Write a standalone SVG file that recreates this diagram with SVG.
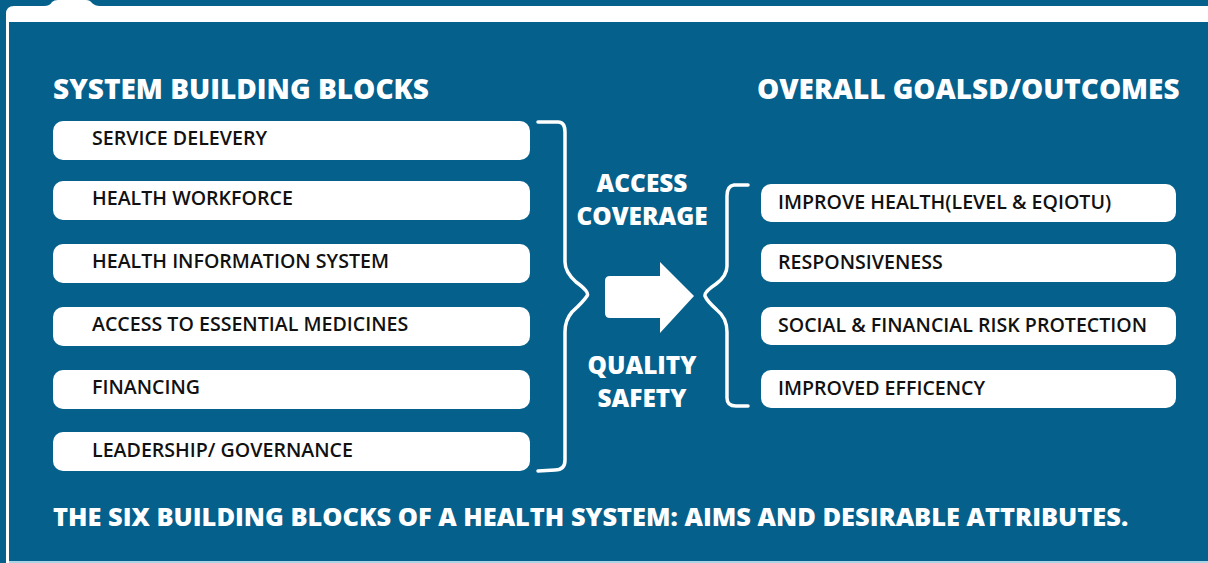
<svg xmlns="http://www.w3.org/2000/svg" width="1208" height="563" viewBox="0 0 1208 563">
  <style>
    .head { font-family: "Open Sans", "Noto Sans", "Liberation Sans", sans-serif; font-weight: 800; fill: #ffffff; }
    .mid { font-family: "Open Sans", "Noto Sans", "Liberation Sans", sans-serif; font-weight: 800; fill: #ffffff; font-size: 24.4px; text-anchor: middle; }
    .box { fill: #ffffff; }
    .label { font-family: "Open Sans", "Noto Sans", "Liberation Sans", sans-serif; font-weight: 600; font-size: 19.6px; fill: #111111; }
    .brace { fill: none; stroke: #ffffff; stroke-width: 3.5; stroke-linecap: round; stroke-linejoin: round; }
  </style>

  <!-- background -->
  <rect x="0" y="0" width="1208" height="563" fill="#05608c"/>

  <!-- white frame: top band with tab, left rail -->
  <path d="M6 563 L6 14 Q6 6 14 6 L44 6 Q50 6 52 2 Q54 0 58 0 L86 0 Q90 0 92 3 Q95 6 100 6 L1208 6 L1208 22 L9 22 L9 563 Z" fill="#ffffff"/>

  <!-- main panel -->
  <path d="M9 32 Q9 22 19 22 L1208 22 L1208 561 L9 561 Z" fill="#05608c"/>
  <rect x="9" y="561" width="1199" height="2" fill="#a9d5e6"/>

  <!-- column headings -->
  <text class="head" x="53" y="99" font-size="28">SYSTEM BUILDING BLOCKS</text>
  <text class="head" x="757" y="99" font-size="27.9">OVERALL GOALSD/OUTCOMES</text>

  <!-- building blocks -->
  <g id="block-service-delivery">
    <rect class="box" x="53" y="121" width="477" height="39" rx="10"/>
    <text class="label" x="92" y="145">SERVICE DELEVERY</text>
  </g>
  <g id="block-health-workforce">
    <rect class="box" x="53" y="181" width="477" height="39" rx="10"/>
    <text class="label" x="92" y="205">HEALTH WORKFORCE</text>
  </g>
  <g id="block-health-information">
    <rect class="box" x="53" y="244" width="477" height="39" rx="10"/>
    <text class="label" x="92" y="268">HEALTH INFORMATION SYSTEM</text>
  </g>
  <g id="block-essential-medicines">
    <rect class="box" x="53" y="307" width="477" height="39" rx="10"/>
    <text class="label" x="92" y="331">ACCESS TO ESSENTIAL MEDICINES</text>
  </g>
  <g id="block-financing">
    <rect class="box" x="53" y="370" width="477" height="39" rx="10"/>
    <text class="label" x="92" y="394">FINANCING</text>
  </g>
  <g id="block-leadership">
    <rect class="box" x="53" y="432" width="477" height="39" rx="10"/>
    <text class="label" x="92" y="457">LEADERSHIP/ GOVERNANCE</text>
  </g>

  <!-- goals / outcomes -->
  <g id="goal-improve-health">
    <rect class="box" x="761" y="184" width="415" height="38" rx="10"/>
    <text class="label" x="778" y="209">IMPROVE HEALTH(LEVEL &amp; EQIOTU)</text>
  </g>
  <g id="goal-responsiveness">
    <rect class="box" x="761" y="244" width="415" height="38" rx="10"/>
    <text class="label" x="778" y="269">RESPONSIVENESS</text>
  </g>
  <g id="goal-risk-protection">
    <rect class="box" x="761" y="307" width="415" height="38" rx="10"/>
    <text class="label" x="778" y="332">SOCIAL &amp; FINANCIAL RISK PROTECTION</text>
  </g>
  <g id="goal-efficiency">
    <rect class="box" x="761" y="370" width="415" height="38" rx="10"/>
    <text class="label" x="778" y="395">IMPROVED EFFICENCY</text>
  </g>

  <!-- attributes in the middle -->
  <g id="attr-access">
    <text class="mid" x="642" y="192">ACCESS</text>
    <text class="mid" x="642" y="225">COVERAGE</text>
  </g>
  <g id="attr-quality">
    <text class="mid" x="642" y="374">QUALITY</text>
    <text class="mid" x="642" y="407">SAFETY</text>
  </g>

  <!-- connectors: braces and arrow -->
  <g id="connectors">
    <path class="brace" d="M538 122 L558 122 Q565 122 565 132 L565 262 Q565 272 576 282 Q590 292 587 296 Q583 302 572 312 Q565 320 565 332 L565 460 Q565 470 555 470 L538 471"/>
    <path class="brace" d="M748 185 L734 185 Q727 186 727 196 L727 266 Q727 276 716 284 Q704 292 705 296 Q707 301 717 310 Q727 318 727 332 L727 398 Q727 406 736 406 L748 406"/>
    <path d="M610 276 L660 276 L660 262 L694 296 L660 333 L660 318 L610 318 Q605 318 605 313 L605 281 Q605 276 610 276 Z" fill="#ffffff"/>
  </g>

  <!-- caption -->
  <text class="head" x="53" y="526" font-size="25.4">THE SIX BUILDING BLOCKS OF A HEALTH SYSTEM: AIMS AND DESIRABLE ATTRIBUTES.</text>
</svg>
